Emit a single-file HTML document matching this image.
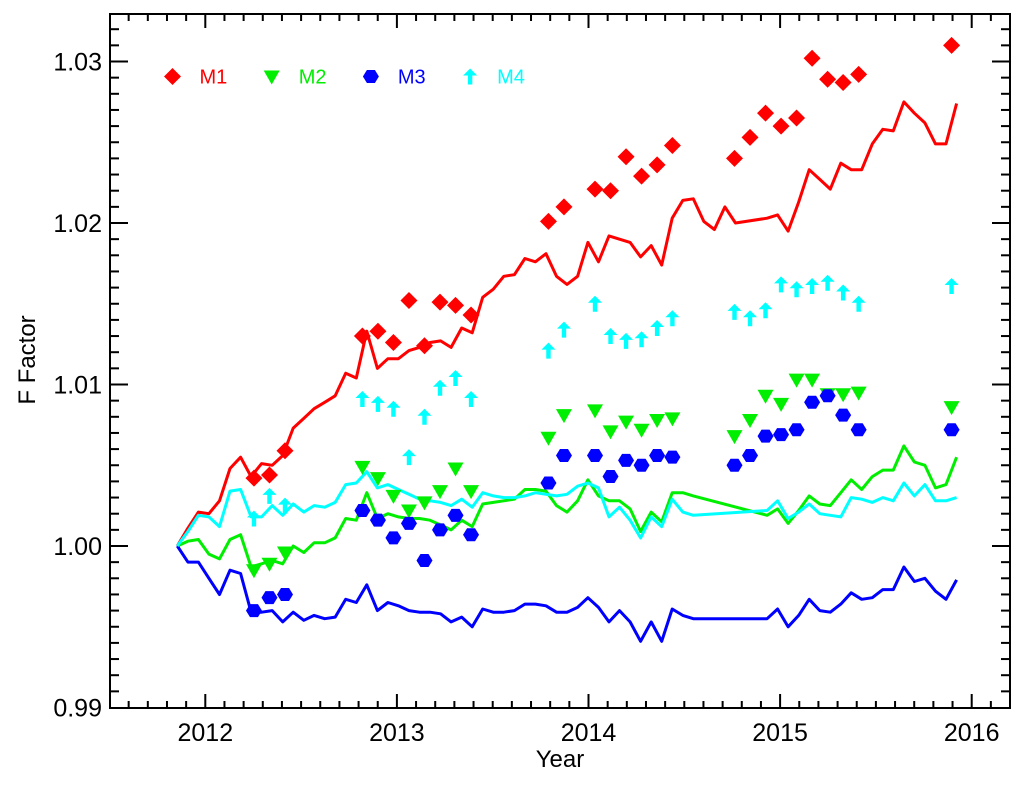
<!DOCTYPE html>
<html><head><meta charset="utf-8"><style>
html,body{margin:0;padding:0;background:#fff;}
svg{display:block;font-family:"Liberation Sans",Arial,sans-serif;}
</style></head><body>
<svg id="chart" width="1024" height="785" viewBox="0 0 1024 785">
<rect x="0" y="0" width="1024" height="785" fill="#fff"/>
<g id="series"></g>
<g id="axes"></g>
<g id="legend"></g>
<text x="560" y="767" font-size="24" text-anchor="middle">Year</text>
<text x="0" y="0" font-size="24" text-anchor="middle" transform="translate(35,360) rotate(-90)">F Factor</text>
</svg>
<script>
const lineDates=[2011.854,2011.909,2011.964,2012.019,2012.074,2012.129,2012.184,2012.239,2012.294,2012.349,2012.404,2012.459,2012.514,2012.568,2012.623,2012.678,2012.733,2012.788,2012.843,2012.898,2012.953,2013.008,2013.063,2013.118,2013.173,2013.228,2013.283,2013.338,2013.393,2013.448,2013.503,2013.558,2013.613,2013.668,2013.723,2013.778,2013.833,2013.888,2013.943,2013.997,2014.052,2014.107,2014.162,2014.217,2014.272,2014.327,2014.382,2014.437,2014.492,2014.547,2014.602,2014.657,2014.712,2014.767,2014.822,2014.877,2014.932,2014.987,2015.042,2015.097,2015.152,2015.207,2015.262,2015.317,2015.371,2015.426,2015.481,2015.536,2015.591,2015.646,2015.701,2015.756,2015.811,2015.866,2015.921];
const lineM1=[1.0000,1.0011,1.0021,1.0020,1.0028,1.0048,1.0055,1.0043,1.0051,1.0050,1.0056,1.0073,1.0079,1.0085,1.0089,1.0093,1.0107,1.0104,1.0133,1.0110,1.0116,1.0116,1.0121,1.0123,1.0126,1.0127,1.0123,1.0135,1.0132,1.0154,1.0159,1.0167,1.0168,1.0178,1.0176,1.0181,1.0167,1.0162,1.0167,1.0188,1.0176,1.0192,1.0190,1.0188,1.0179,1.0186,1.0174,1.0203,1.0214,1.0215,1.0201,1.0196,1.0210,1.0200,null,null,1.0203,1.0205,1.0195,1.0213,1.0233,1.0227,1.0221,1.0237,1.0233,1.0233,1.0249,1.0258,1.0257,1.0275,1.0268,1.0262,1.0249,1.0249,1.0274];
const lineM2=[1.0000,1.0003,1.0004,0.9995,0.9992,1.0004,1.0007,0.9987,0.9989,0.9991,0.9989,1.0000,0.9996,1.0002,1.0002,1.0005,1.0017,1.0016,1.0033,1.0017,1.0020,1.0018,1.0017,1.0017,1.0016,1.0013,1.0010,1.0016,1.0012,1.0026,1.0027,1.0028,1.0029,1.0035,1.0035,1.0034,1.0025,1.0021,1.0028,1.0041,1.0031,1.0028,1.0028,1.0023,1.0009,1.0021,1.0015,1.0033,1.0033,1.0031,null,null,null,null,null,null,1.0019,1.0023,1.0014,1.0022,1.0031,1.0026,1.0025,1.0033,1.0041,1.0035,1.0043,1.0047,1.0047,1.0062,1.0052,1.0050,1.0036,1.0038,1.0055];
const lineM3=[1.0000,0.9990,0.9990,0.9980,0.9970,0.9985,0.9983,0.9959,0.9959,0.9960,0.9953,0.9959,0.9954,0.9957,0.9955,0.9956,0.9967,0.9965,0.9976,0.9960,0.9965,0.9963,0.9960,0.9959,0.9959,0.9958,0.9953,0.9956,0.9950,0.9961,0.9959,0.9959,0.9960,0.9964,0.9964,0.9963,0.9959,0.9959,0.9962,0.9968,0.9962,0.9953,0.9960,0.9953,0.9941,0.9953,0.9941,0.9961,0.9957,0.9955,null,null,null,null,null,null,0.9955,0.9961,0.9950,0.9957,0.9967,0.9960,0.9959,0.9964,0.9971,0.9967,0.9968,0.9973,0.9973,0.9987,0.9978,0.9980,0.9972,0.9967,0.9979];
const lineM4=[1.0000,1.0009,1.0019,1.0018,1.0012,1.0034,1.0035,1.0018,1.0018,1.0025,1.0019,1.0026,1.0021,1.0025,1.0024,1.0027,1.0038,1.0039,1.0046,1.0036,1.0038,1.0035,1.0032,1.0029,1.0028,1.0027,1.0025,1.0029,1.0024,1.0033,1.0031,1.0030,1.0030,1.0031,1.0033,1.0032,1.0031,1.0032,1.0037,1.0039,1.0036,1.0018,1.0024,1.0016,1.0005,1.0018,1.0012,1.0029,1.0021,1.0019,null,null,null,null,null,null,1.0022,1.0028,1.0017,1.0021,1.0026,1.0020,1.0019,1.0018,1.0030,1.0029,1.0027,1.0030,1.0028,1.0039,1.0031,1.0038,1.0028,1.0028,1.0030];
const markerDates=[2012.254,2012.335,2012.416,2012.820,2012.901,2012.982,2013.063,2013.144,2013.225,2013.306,2013.387,2013.791,2013.872,2014.034,2014.115,2014.196,2014.277,2014.358,2014.438,2014.762,2014.843,2014.924,2015.005,2015.086,2015.167,2015.248,2015.329,2015.410,2015.895];
const markM1=[1.0042,1.0044,1.0059,1.0130,1.0133,1.0126,1.0152,1.0124,1.0151,1.0149,1.0143,1.0201,1.0210,1.0221,1.0220,1.0241,1.0229,1.0236,1.0248,1.0240,1.0253,1.0268,1.0260,1.0265,1.0302,1.0289,1.0287,1.0292,1.0310];
const markM2=[0.9985,0.9989,0.9996,1.0049,1.0042,1.0031,1.0022,1.0027,1.0034,1.0048,1.0034,1.0067,1.0081,1.0084,1.0071,1.0077,1.0072,1.0078,1.0079,1.0068,1.0078,1.0093,1.0088,1.0103,1.0103,1.0094,1.0094,1.0095,1.0086];
const markM3=[0.9960,0.9968,0.9970,1.0022,1.0016,1.0005,1.0014,0.9991,1.0010,1.0019,1.0007,1.0039,1.0056,1.0056,1.0043,1.0053,1.0050,1.0056,1.0055,1.0050,1.0056,1.0068,1.0069,1.0072,1.0089,1.0093,1.0081,1.0072,1.0072];
const markM4=[1.0017,1.0031,1.0025,1.0091,1.0088,1.0085,1.0055,1.0080,1.0098,1.0104,1.0091,1.0121,1.0134,1.0150,1.0130,1.0127,1.0128,1.0135,1.0141,1.0145,1.0141,1.0146,1.0162,1.0159,1.0161,1.0163,1.0157,1.0150,1.0161];
const xTickLabels=["2012","2013","2014","2015","2016"];
const yTickLabels=["0.99","1.00","1.01","1.02","1.03"];
const seriesNames=["M1","M2","M3","M4"];

const NS="http://www.w3.org/2000/svg";
const L=110,R=1010,T=14,B=708;
function xs(yr){return 205.3+(yr-2012)*191.6;}
function ys(v){return 546-(v-1)*16150;}
function mk(tag,attrs,parent){const e=document.createElementNS(NS,tag);for(const k in attrs)e.setAttribute(k,attrs[k]);parent.appendChild(e);return e;}
const colors=["#ff0000","#00ee00","#0000ff","#00ffff"];
const gS=document.getElementById('series'),gA=document.getElementById('axes'),gL=document.getElementById('legend');

function marker(type,cx,cy,col,parent){
  let e;
  if(type===0){e=mk('polygon',{points:`${cx},${cy-8.5} ${cx+8.5},${cy} ${cx},${cy+8.5} ${cx-8.5},${cy}`,fill:col},parent);}
  else if(type===1){e=mk('polygon',{points:`${cx-8},${cy-6} ${cx+8},${cy-6} ${cx},${cy+8}`,fill:col},parent);}
  else if(type===2){e=mk('polygon',{points:`${cx-8},${cy} ${cx-4},${cy-6.5} ${cx+4},${cy-6.5} ${cx+8},${cy} ${cx+4},${cy+6.5} ${cx-4},${cy+6.5}`,fill:col},parent);}
  else {e=mk('polygon',{points:`${cx},${cy-8} ${cx+7},${cy-1} ${cx+2.2},${cy-1} ${cx+2.2},${cy+8} ${cx-2.2},${cy+8} ${cx-2.2},${cy-1} ${cx-7},${cy-1}`,fill:col},parent);}
  return e;
}

const lines=[lineM1,lineM2,lineM3,lineM4];
const marks=[markM1,markM2,markM3,markM4];
lines.forEach((arr,s)=>{
  const pts=[];
  arr.forEach((v,i)=>{if(v!==null)pts.push(xs(lineDates[i]).toFixed(1)+','+ys(v).toFixed(1));});
  const p=mk('polyline',{points:pts.join(' '),fill:'none',stroke:colors[s],'stroke-width':3,'stroke-linejoin':'round'},gS);
  
  
});
marks.forEach((arr,s)=>{
  arr.forEach((v,i)=>{
    const m=marker(s,xs(markerDates[i]),ys(v),colors[s],gS);
    
    
  });
});

const fr=mk('rect',{x:L,y:T,width:R-L,height:B-T,fill:'none',stroke:'#000','stroke-width':2},gA);


for(let t=2011.5;t<=2016.2+1e-6;t+=0.1){
  const tt=Math.round(t*10)/10;const x=xs(tt);if(x<L+1||x>R-1)continue;
  const major=Math.abs(tt-Math.round(tt))<1e-6;const len=major?14:7;
  mk('line',{x1:x,y1:B,x2:x,y2:B-len,stroke:'#000','stroke-width':2},gA);
  mk('line',{x1:x,y1:T,x2:x,y2:T+len,stroke:'#000','stroke-width':2},gA);
}
xTickLabels.forEach(lbl=>{
  const t=mk('text',{x:xs(+lbl),y:741,'font-size':25,'text-anchor':'middle'},gA);t.textContent=lbl;
  
  
});
for(let k=990;k<=1033;k++){
  const v=k/1000;const y=ys(v);if(y<T+1||y>B-1)continue;
  const major=k%10===0;const len=major?18:9;
  mk('line',{x1:L,y1:y,x2:L+len,y2:y,stroke:'#000','stroke-width':2},gA);
  mk('line',{x1:R,y1:y,x2:R-len,y2:y,stroke:'#000','stroke-width':2},gA);
}
yTickLabels.forEach(lbl=>{
  const t=mk('text',{x:102,y:ys(+lbl)+9,'font-size':25,'text-anchor':'end'},gA);t.textContent=lbl;
  
  
});
seriesNames.forEach((n,s)=>{
  const g=mk('g',{},gL);
  
  
  const mx=172.5+s*99.2;
  marker(s,mx,76.5,colors[s],g);
  const t=mk('text',{x:mx+27,y:83.5,'font-size':20,fill:colors[s]},g);t.textContent=n;
});
</script>
</body></html>
